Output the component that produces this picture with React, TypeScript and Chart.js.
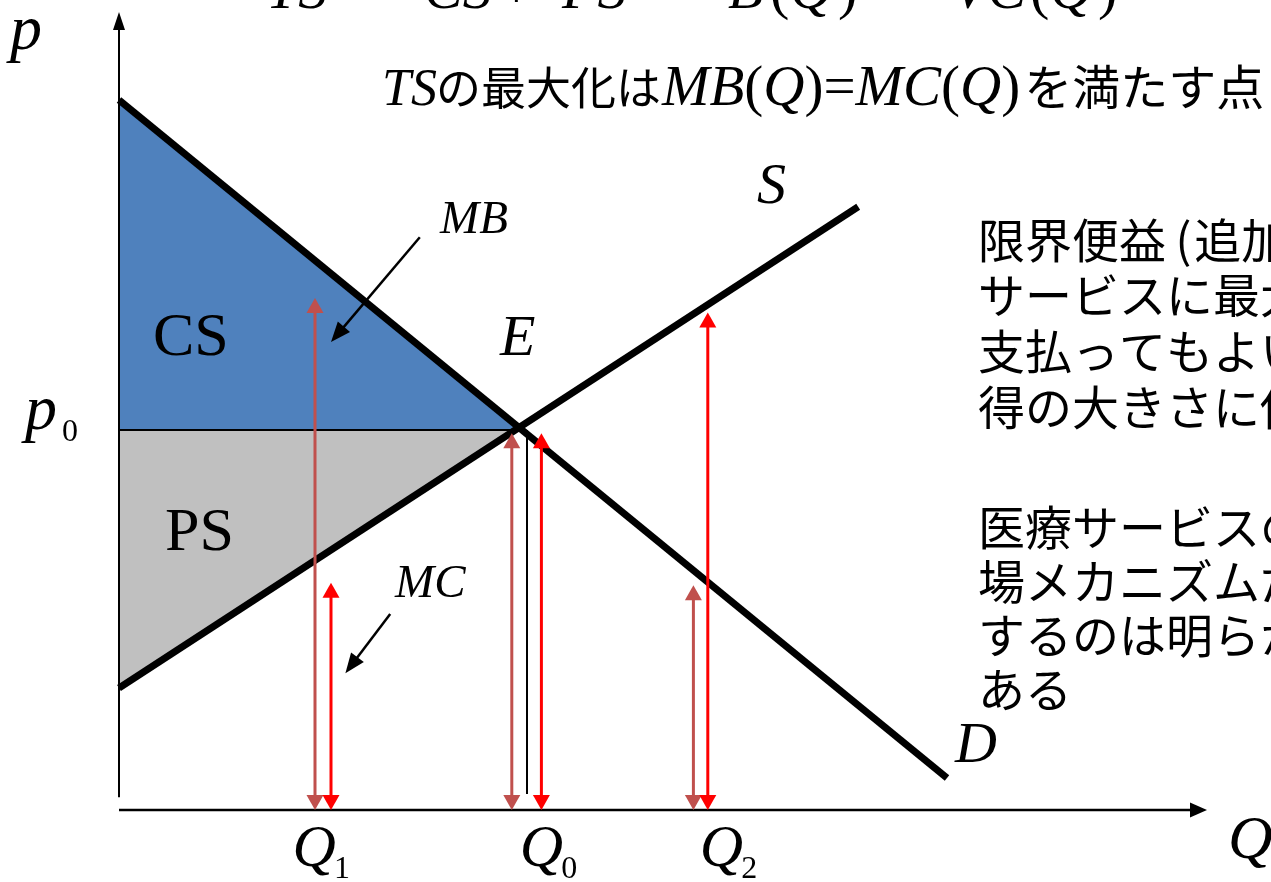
import React, { useEffect, useRef } from "react";
import { Chart, registerables } from "chart.js";

Chart.register(...registerables);

const W = 1271;
const H = 882;

// ---- data (quantity Q, price p) ----
const demandQ = [0, 10.35];
const demandP = [8.875, 0.4];
const supplyQ = [0, 9.24];
const supplyP = [1.525, 7.54];
const equilibriumQ = 4.98;
const equilibriumP = 4.78;
const p0Level = 4.75;
const guideQ = 5.1;
const guideBottomP = 0.2;

// double arrows at Q1, Q0, Q2
const mbArrowQ = [2.45, 4.91, 7.18];
const mbArrowTop = [6.4, 4.71, 2.81];
const mcArrowQ = [2.65, 5.28, 7.36];
const mcArrowTop = [2.84, 4.71, 6.22];
const quantitySubscripts = ["1", "0", "2"];
const quantityLabelQ = [2.17, 5.01, 7.26];

// axes
const xAxisEnd = 13.6;
const yAxisTop = 9.975;
const yAxisBottom = 0.16;

// pointer arrows: [fromQ, fromP, toQ, toP]
const mbPointer = [3.76, 7.16, 2.65, 5.85];
const mcPointer = [3.39, 2.45, 2.83, 1.71];

const rightText = [
  "限界便益\u2009(\u200a追加的な医療",
  "サービスに最大限",
  "支払ってもよい金額)は所",
  "得の大きさに依存する",
  "医療サービスの配分を市",
  "場メカニズムだけで決定",
  "するのは明らかに問題で",
  "ある",
];

const BLUE = "#4F81BD";
const GRAY = "#C0C0C0";
const BROWN = "#C0504D";
const RED = "#FF0000";

const serifI = (s: number) => `italic ${s}px "Liberation Serif", "Times New Roman", serif`;
const serif = (s: number) => `${s}px "Liberation Serif", "Times New Roman", serif`;
const jp = (s: number) => `${s}px "Noto Sans CJK JP", "Noto Sans", sans-serif`;

function head(ctx: CanvasRenderingContext2D, tx: number, ty: number, dx: number, dy: number, len: number, hw: number, color: string) {
  const l = Math.hypot(dx, dy);
  const ux = dx / l, uy = dy / l;
  const bx = tx - ux * len, by = ty - uy * len;
  ctx.beginPath();
  ctx.moveTo(tx, ty);
  ctx.lineTo(bx - uy * hw, by + ux * hw);
  ctx.lineTo(bx + uy * hw, by - ux * hw);
  ctx.closePath();
  ctx.fillStyle = color;
  ctx.fill();
}

function runs(ctx: CanvasRenderingContext2D, parts: [string, string][], x: number, y: number) {
  for (const [t, f] of parts) {
    ctx.font = f;
    ctx.fillText(t, x, y);
    x += ctx.measureText(t).width;
  }
  return x;
}

const annotate = {
  id: "annotate",
  afterDatasetsDraw(chart: any) {
    const ctx: CanvasRenderingContext2D = chart.ctx;
    const X = (q: number) => chart.scales.x.getPixelForValue(q);
    const Y = (p: number) => chart.scales.y.getPixelForValue(p);
    ctx.save();
    ctx.lineCap = "butt";

    // axes
    ctx.strokeStyle = "#000";
    ctx.lineWidth = 2.5;
    ctx.beginPath();
    ctx.moveTo(X(0), Y(0));
    ctx.lineTo(X(xAxisEnd) - 12, Y(0));
    ctx.stroke();
    head(ctx, X(xAxisEnd), Y(0), 1, 0, 17, 7.5, "#000");
    ctx.lineWidth = 2;
    ctx.beginPath();
    ctx.moveTo(X(0), Y(yAxisBottom));
    ctx.lineTo(X(0), Y(yAxisTop) + 12);
    ctx.stroke();
    head(ctx, X(0), Y(yAxisTop), 0, -1, 18, 6, "#000");

    // double arrows
    const dbl = (q: number, top: number, color: string) => {
      const x = X(q), y1 = Y(top), y2 = Y(0);
      ctx.strokeStyle = color;
      ctx.lineWidth = 3;
      ctx.beginPath();
      ctx.moveTo(x, y1 + 10);
      ctx.lineTo(x, y2 - 10);
      ctx.stroke();
      head(ctx, x, y1, 0, -1, 15, 8.5, color);
      head(ctx, x, y2, 0, 1, 15, 8.5, color);
    };
    mbArrowQ.forEach((q, i) => dbl(q, mbArrowTop[i], BROWN));
    mcArrowQ.forEach((q, i) => dbl(q, mcArrowTop[i], RED));

    // pointers
    const pointer = (a: number[]) => {
      const x1 = X(a[0]), y1 = Y(a[1]), x2 = X(a[2]), y2 = Y(a[3]);
      const l = Math.hypot(x2 - x1, y2 - y1);
      ctx.strokeStyle = "#000";
      ctx.lineWidth = 2.5;
      ctx.beginPath();
      ctx.moveTo(x1, y1);
      ctx.lineTo(x2 - ((x2 - x1) / l) * 14, y2 - ((y2 - y1) / l) * 14);
      ctx.stroke();
      head(ctx, x2, y2, x2 - x1, y2 - y1, 20, 8, "#000");
    };
    pointer(mbPointer);
    pointer(mcPointer);

    // texts
    ctx.fillStyle = "#000";
    ctx.textBaseline = "alphabetic";
    ctx.textAlign = "left";

    // top formula (cut off at top edge)
    const topTokens: [string, string, number][] = [
      ["TS", serifI(58), 266],
      ["=", serif(58), 350],
      ["CS", serifI(58), 424],
      ["+", serif(58), 500],
      ["PS", serifI(58), 562],
      ["=", serif(58), 655],
      ["B", serifI(58), 728],
      ["(", serif(58), 770],
      ["Q", serifI(58), 790],
      [")", serif(58), 838],
      ["−", serif(58), 880],
      ["VC", serifI(58), 952],
      ["(", serif(58), 1030],
      ["Q", serifI(58), 1050],
      [")", serif(58), 1098],
    ];
    for (const [t, f, x] of topTokens) {
      ctx.font = f;
      ctx.fillText(t, x, 8);
    }

    // subtitle line
    const sb = 105;
    ctx.font = serifI(52);
    ctx.fillText("TS", 382, sb);
    ctx.font = jp(45);
    ctx.fillText("の最大化は", 436, sb);
    const end = runs(
      ctx,
      [
        ["MB", serifI(57)],
        ["(", serif(57)],
        ["Q", serifI(57)],
        [")=", serif(57)],
        ["MC", serifI(57)],
        ["(", serif(57)],
        ["Q", serifI(57)],
        [")", serif(57)],
      ],
      662,
      sb
    );
    ctx.font = jp(48);
    ctx.fillText("を満たす点", end + 4, sb);

    // right text block
    const baselines = [258, 313, 369, 425, 545, 599, 653, 707];
    ctx.font = jp(47);
    rightText.forEach((t, i) => ctx.fillText(t, 978, baselines[i]));

    // axis labels
    ctx.font = serifI(64);
    ctx.fillText("p", 10, 49);
    ctx.fillText("p", 25, 429);
    ctx.font = serif(32);
    ctx.fillText("0", 62, 441);
    ctx.font = serifI(62);
    ctx.fillText("Q", 1228, 858);

    quantityLabelQ.forEach((q, i) => {
      const x = X(q);
      ctx.font = serifI(60);
      ctx.fillText("Q", x, 866);
      const w = ctx.measureText("Q").width;
      ctx.font = serif(32);
      ctx.fillText(quantitySubscripts[i], x + w - 2, 878);
    });

    // area & curve labels
    ctx.font = serif(62);
    ctx.fillText("CS", 153, 355);
    ctx.fillText("PS", 165, 550);
    ctx.font = serifI(58);
    ctx.fillText("E", 500, 355);
    ctx.fillText("S", 757, 203);
    ctx.fillText("D", 955, 762);
    ctx.font = serifI(47);
    ctx.fillText("MB", 440, 233);
    ctx.fillText("MC", 395, 597);

    ctx.restore();
  },
};

export default function App() {
  const ref = useRef<HTMLCanvasElement | null>(null);

  useEffect(() => {
    if (!ref.current) return;
    const pts = (qs: number[], ps: number[]) => qs.map((q, i) => ({ x: q, y: ps[i] }));
    const chart = new Chart(ref.current, {
      type: "scatter",
      data: {
        datasets: [
          {
            label: "CS",
            data: [
              { x: 0, y: demandP[0] },
              { x: equilibriumQ, y: equilibriumP },
            ],
            showLine: true,
            borderColor: "rgba(0,0,0,0)",
            backgroundColor: BLUE,
            fill: { value: p0Level },
            order: 6,
          },
          {
            label: "PS",
            data: [
              { x: 0, y: supplyP[0] },
              { x: equilibriumQ, y: equilibriumP },
            ],
            showLine: true,
            borderColor: "rgba(0,0,0,0)",
            backgroundColor: GRAY,
            fill: { value: p0Level },
            order: 5,
          },
          {
            label: "p0",
            data: [
              { x: 0, y: p0Level },
              { x: equilibriumQ, y: p0Level },
            ],
            showLine: true,
            borderColor: "#000",
            borderWidth: 2,
            fill: false,
            order: 4,
          },
          {
            label: "guide",
            data: [
              { x: guideQ, y: p0Level },
              { x: guideQ, y: guideBottomP },
            ],
            showLine: true,
            borderColor: "#000",
            borderWidth: 2,
            fill: false,
            order: 3,
          },
          {
            label: "D",
            data: pts(demandQ, demandP),
            showLine: true,
            borderColor: "#000",
            borderWidth: 7,
            fill: false,
            order: 1,
          },
          {
            label: "S",
            data: pts(supplyQ, supplyP),
            showLine: true,
            borderColor: "#000",
            borderWidth: 7,
            fill: false,
            order: 1,
          },
        ],
      },
      options: {
        animation: false,
        responsive: false,
        maintainAspectRatio: false,
        devicePixelRatio: 1,
        events: [],
        layout: { padding: 0 },
        elements: { point: { radius: 0, hoverRadius: 0 }, line: { borderCapStyle: "butt", tension: 0 } },
        plugins: { legend: { display: false }, tooltip: { enabled: false }, title: { display: false } },
        scales: {
          x: { type: "linear", display: false, min: -119 / 80, max: (W - 119) / 80 },
          y: { type: "linear", display: false, min: -(H - 810) / 80, max: 810 / 80 },
        },
      },
      plugins: [annotate],
    });
    return () => chart.destroy();
  }, []);

  return (
    <div style={{ position: "fixed", left: 0, top: 0, width: W, height: H, background: "#fff" }}>
      <canvas ref={ref} width={W} height={H} style={{ display: "block", width: W, height: H }} />
    </div>
  );
}
